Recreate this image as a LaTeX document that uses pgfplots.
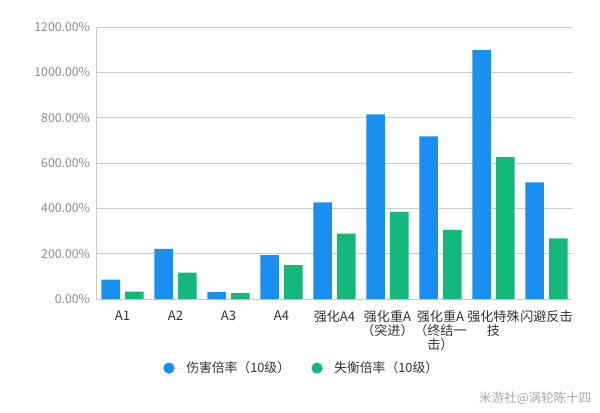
\documentclass[border=0pt]{standalone}
\usepackage{fontspec}
\setmainfont{Noto Sans CJK SC}
\usepackage{pgfplots}
\pgfplotsset{compat=1.18}

\definecolor{dmgblue}{HTML}{1A8FF0}
\definecolor{stungreen}{HTML}{14B87C}
\definecolor{gridgray}{HTML}{CCCCCC}
\definecolor{ticktext}{HTML}{8A8A8A}
\definecolor{cattext}{HTML}{333333}

% 1 px of the 600x412 reference = 0.75pt
\begin{document}
\begin{tikzpicture}
\path[use as bounding box] (0pt,0pt) rectangle (450pt,309pt);
\begin{axis}[
    at={(72pt,84.75pt)}, anchor=south west,
    scale only axis,
    width=357.75pt, height=204pt,
    ybar=3.75pt,
    bar width=13.9pt,
    xmin=-0.5, xmax=8.5,
    ymin=0, ymax=1200,
    ytick={0,200,...,1200},
    xtick={0,...,8},
    xticklabels={A1,A2,A3,A4,强化A4,{强化重A\\（突进）},{强化重A\\（终结一\\击）},{强化特殊\\技},闪避反击},
    extra x ticks={-0.5,0.5,...,8.5},
    extra x tick labels={},
    extra x tick style={major tick length=4pt, tick style={gridgray, line width=0.6pt}, tick pos=left, xtick align=outside},
    major x tick style={draw=none},
    major y tick style={draw=none},
    ymajorgrids,
    grid style={gridgray, line width=0.6pt},
    axis line style={gridgray, line width=0.6pt},
    axis x line*=bottom,
    axis y line*=left,
    x tick label style={font=\fontsize{9.8pt}{10.5pt}\selectfont, text=cattext, align=center, anchor=north, yshift=-1pt},
    y tick label style={font=\fontsize{9.2pt}{10pt}\selectfont, text=ticktext, xshift=-1pt},
    /pgf/number format/assume math mode=true,
    yticklabel={\pgfmathprintnumber[fixed,fixed zerofill,precision=2,1000 sep={}]{\tick}\%},
    legend columns=2,
    legend style={at={(0.432,-0.254)}, anchor=center, draw=none, fill=none,
        font=\fontsize{9.6pt}{10pt}\selectfont, text=cattext,
        /tikz/every even column/.append style={column sep=14pt}},
    legend image code/.code={
        \path (-4.2pt,0) -- (11pt,0);
        \fill[#1] (0,0) circle (4.2pt);},
]
\addplot[fill=dmgblue, draw=none] coordinates {
    (0,85) (1,221) (2,30) (3,194) (4,426) (5,815) (6,717) (7,1098) (8,515) };
\addplot[fill=stungreen, draw=none] coordinates {
    (0,33) (1,116) (2,26) (3,150) (4,288) (5,383) (6,305) (7,626) (8,268) };
\legend{伤害倍率（10级）, 失衡倍率（10级）}
\end{axis}
\node[anchor=east, text=black!35, font=\fontsize{9.4pt}{10pt}\selectfont] at (447pt,10.5pt) {米游社@涡轮陈十四};
\end{tikzpicture}
\end{document}
